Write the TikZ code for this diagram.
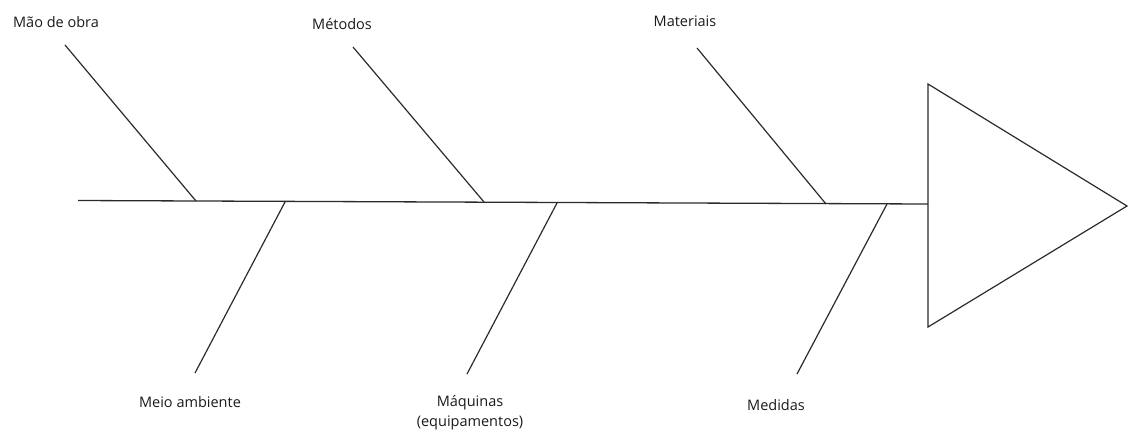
\documentclass[tikz,border=0pt]{standalone}
\usepackage{fontspec}
\setmainfont{Open Sans}
\usetikzlibrary{positioning,calc}
\definecolor{fbLine}{HTML}{2B2B2B}
\definecolor{fbText}{HTML}{1A1A1A}
\tikzset{
  spine/.style={line width=1.3pt, draw=fbLine},
  bone/.style={line width=1.2pt, draw=fbLine},
  headshape/.style={line width=1.2pt, draw=fbLine, line join=miter},
  cause/.style={font=\fontsize{14.5}{20}\selectfont, text=fbText, align=center, inner sep=1pt}
}
\begin{document}
\begin{tikzpicture}[x=1pt, y=-1pt]
  \useasboundingbox (0,0) rectangle (1129,432);
  % spine and head
  \coordinate (tail) at (78,200.5);
  \coordinate (neck) at (928,204);
  \coordinate (htop) at (928,84);
  \coordinate (hbot) at (928,327);
  \coordinate (apex) at (1127,206);
  \draw[spine] (tail) -- (neck);
  \draw[headshape] (htop) -- (apex) -- (hbot) -- cycle;
  % upper bones
  \coordinate (u1) at (65,45);   \coordinate (j1) at (196,201);
  \coordinate (u2) at (353,47);  \coordinate (j2) at (484,202);
  \coordinate (u3) at (697,48);  \coordinate (j3) at (826,204);
  % lower bones
  \coordinate (l1) at (195,373); \coordinate (k1) at (285,202);
  \coordinate (l2) at (467,374); \coordinate (k2) at (557,203);
  \coordinate (l3) at (797,374); \coordinate (k3) at (887,204);
  \foreach \n in {1,2,3}{\draw[bone] (u\n) -- (j\n); \draw[bone] (l\n) -- (k\n);}
  % labels
  \node[cause] (mo) at (56,22) {Mão de obra};
  \node[cause] (me) at (342,24) {Métodos};
  \node[cause] (ma) at (685,21) {Materiais};
  \node[cause] (ma2) at (190,402) {Meio ambiente};
  \node[cause] (mq) at (470,413) {Máquinas\\(equipamentos)};
  \node[cause] (md) at (776,405) {Medidas};
\end{tikzpicture}
\end{document}
